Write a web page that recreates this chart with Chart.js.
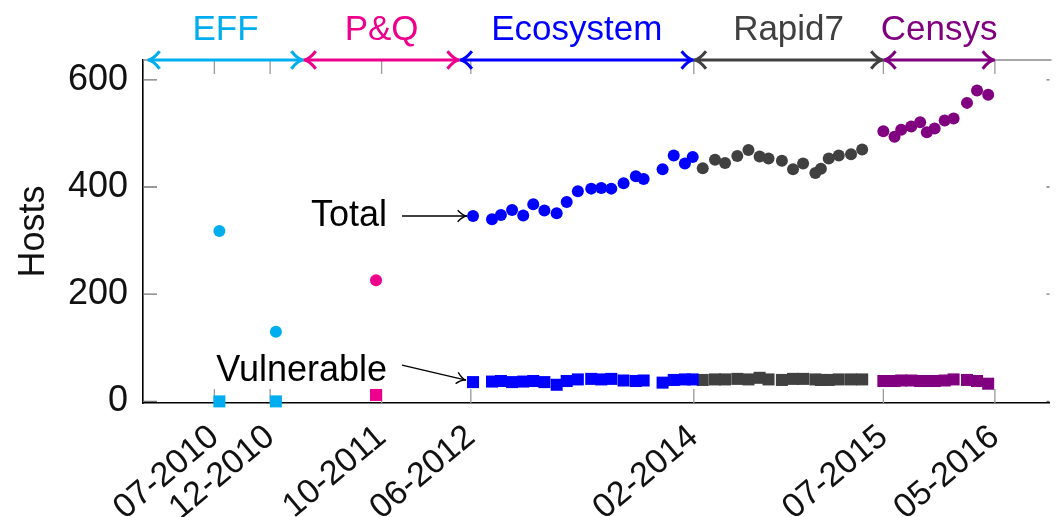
<!DOCTYPE html>
<html>
<head>
<meta charset="utf-8">
<script src="https://cdn.jsdelivr.net/npm/chart.js@4.4.1/dist/chart.umd.min.js"></script>
<style>
  html, body { margin: 0; padding: 0; background: #fff; }
  #wrap { width: 1058px; height: 517px; }
</style>
</head>
<body>
<div id="wrap"><canvas id="hostsChart"></canvas></div>
<script>
// x values are months counted from Jan 2010
const tickMonths = [6, 11, 21, 29, 49, 66, 76];
const tickLabels = ['07-2010', '12-2010', '10-2011', '06-2012', '02-2014', '07-2015', '05-2016'];
const yTicks = [0, 200, 400, 600];

const periodNames = ['EFF', 'P&Q', 'Ecosystem', 'Rapid7', 'Censys'];
const periodStart = [0, 14, 28, 49, 66];
const periodEnd = [14, 28, 49, 66, 76];
const periodColors = ['#00AEEF', '#EC008C', '#0000FF', '#404040', '#800080'];

const effMonths = [6.45, 11.52];
const effTotal = [318, 130];
const effVuln = [0, 0];

const pqMonths = [20.5];
const pqTotal = [226];
const pqVuln = [12];

const ecoMonths = [29.2, 30.9, 31.7, 32.7, 33.7, 34.6, 35.6, 36.7, 37.6, 38.6,
  39.8, 40.7, 41.6, 42.7, 43.8, 44.5, 46.2, 47.2, 48.2, 48.9];
const ecoTotal = [346, 340, 348, 357, 347, 368, 356, 351, 372, 392,
  397, 398, 397, 407, 420, 415, 433, 459, 444, 456];
const ecoVuln = [36, 37, 38, 36, 37, 38, 36, 31, 38, 41,
  42, 41, 42, 39, 38, 39, 35, 40, 41, 41];

const r7Months = [49.8, 50.9, 51.8, 52.9, 53.9, 54.9, 55.7, 56.9, 57.9, 58.8,
  59.9, 60.4, 61.1, 62.0, 63.1, 64.1];
const r7Total = [435, 451, 445, 458, 469, 457, 453, 449, 433, 444,
  426, 434, 453, 459, 461, 470];
const r7Vuln = [40, 41, 41, 42, 41, 44, 41, 40, 42, 42, 41, 40, 40, 41, 41, 41];

const censysMonths = [66.0, 67.0, 67.6, 68.5, 69.3, 69.9, 70.6, 71.5, 72.3, 73.5, 74.4, 75.4];
const censysTotal = [504, 494, 507, 513, 521, 502, 509, 524, 528, 557, 580, 572];
const censysVuln = [38, 38, 39, 39, 38, 38, 38, 39, 41, 40, 38, 33];

const FONT = '"Liberation Sans", Arial, sans-serif';

const groups = [
  [effMonths, effTotal, effVuln],
  [pqMonths, pqTotal, pqVuln],
  [ecoMonths, ecoTotal, ecoVuln],
  [r7Months, r7Total, r7Vuln],
  [censysMonths, censysTotal, censysVuln],
];

const datasets = [];
groups.forEach(([m, tot, vul], i) => {
  datasets.push({
    label: periodNames[i] + ' total',
    data: m.map((x, j) => ({ x, y: tot[j] })),
    backgroundColor: periodColors[i],
    borderWidth: 0,
    pointStyle: 'circle',
    pointRadius: 6,
    clip: false,
  });
  datasets.push({
    label: periodNames[i] + ' vulnerable',
    data: m.map((x, j) => ({ x, y: vul[j] })),
    backgroundColor: periodColors[i],
    borderWidth: 0,
    pointStyle: 'rect',
    pointRadius: 8.5,
    clip: false,
  });
});

function arrowHead(ctx, x, y, angle, len, spread) {
  ctx.beginPath();
  ctx.moveTo(x - len * Math.cos(angle - spread), y - len * Math.sin(angle - spread));
  ctx.quadraticCurveTo(x - len * 0.35 * Math.cos(angle), y - len * 0.35 * Math.sin(angle), x, y);
  ctx.quadraticCurveTo(x - len * 0.35 * Math.cos(angle), y - len * 0.35 * Math.sin(angle),
    x - len * Math.cos(angle + spread), y - len * Math.sin(angle + spread));
  ctx.stroke();
}

// frame ticks, period arrows and the Total / Vulnerable callouts
const decorations = {
  id: 'decorations',
  beforeDatasetsDraw(chart) {
    const { ctx, chartArea: a, scales: { x, y } } = chart;
    ctx.save();
    // inward tick marks
    ctx.lineWidth = 1.3;
    ctx.strokeStyle = '#9a9a9a';
    tickMonths.forEach(m => {
      const px = x.getPixelForValue(m);
      ctx.beginPath();
      ctx.moveTo(px, a.bottom); ctx.lineTo(px, a.bottom - 14);
      ctx.moveTo(px, a.top); ctx.lineTo(px, a.top + 14);
      ctx.stroke();
    });
    ctx.strokeStyle = '#777';
    yTicks.forEach(v => {
      const py = y.getPixelForValue(v);
      ctx.beginPath();
      ctx.moveTo(a.left, py); ctx.lineTo(a.left + 14, py);
      ctx.moveTo(a.right, py); ctx.lineTo(a.right - 3, py);
      ctx.stroke();
    });
    ctx.restore();
  },
  afterDatasetsDraw(chart) {
    const { ctx, chartArea: a, scales: { x, y } } = chart;
    ctx.save();

    // top frame line
    ctx.strokeStyle = '#8a8a8a';
    ctx.lineWidth = 1.5;
    ctx.beginPath();
    ctx.moveTo(a.left, a.top); ctx.lineTo(a.right + 2, a.top);
    ctx.stroke();

    // period arrows with names
    ctx.lineWidth = 3;
    ctx.font = '35px ' + FONT;
    ctx.textAlign = 'center';
    ctx.textBaseline = 'middle';
    periodNames.forEach((name, i) => {
      const x0 = x.getPixelForValue(periodStart[i]);
      const x1 = x.getPixelForValue(periodEnd[i]);
      ctx.strokeStyle = periodColors[i];
      ctx.fillStyle = periodColors[i];
      ctx.beginPath();
      ctx.moveTo(x0 + 2, a.top); ctx.lineTo(x1 - 2, a.top);
      ctx.stroke();
      arrowHead(ctx, x1, a.top, 0, 15, 0.62);
      arrowHead(ctx, x0, a.top, Math.PI, 15, 0.62);
      ctx.fillText(name, (x0 + x1) / 2, a.top - 30);
    });

    // callouts pointing at the first Ecosystem scan
    ctx.fillStyle = '#000';
    ctx.strokeStyle = '#000';
    ctx.lineWidth = 1.4;
    ctx.font = '36px ' + FONT;
    ctx.textAlign = 'right';
    const px = x.getPixelForValue(ecoMonths[0]);
    const tY = y.getPixelForValue(ecoTotal[0]);
    const vY = y.getPixelForValue(ecoVuln[0]);

    ctx.fillText('Total', px - 86, tY);
    ctx.beginPath();
    ctx.moveTo(px - 71, tY); ctx.lineTo(px - 6, tY);
    ctx.stroke();
    arrowHead(ctx, px - 6, tY, 0, 11, 0.55);

    const sx = px - 71, sy = vY - 17, ex = px - 7, ey = vY - 2;
    ctx.fillText('Vulnerable', px - 86, vY - 11);
    ctx.beginPath();
    ctx.moveTo(sx, sy); ctx.lineTo(ex, ey);
    ctx.stroke();
    arrowHead(ctx, ex, ey, Math.atan2(ey - sy, ex - sx), 11, 0.55);

    ctx.restore();
  }
};

new Chart(document.getElementById('hostsChart'), {
  type: 'scatter',
  data: { datasets },
  plugins: [decorations],
  options: {
    responsive: true,
    maintainAspectRatio: false,
    animation: false,
    layout: { padding: { top: 60, right: 2, left: 0, bottom: 0 } },
    plugins: { legend: { display: false }, tooltip: { enabled: false } },
    scales: {
      x: {
        type: 'linear',
        min: -0.4,
        max: 80.9,
        afterBuildTicks: s => { s.ticks = tickMonths.map(v => ({ value: v })); },
        afterFit: s => { s.height = 114; },
        grid: { display: false, drawTicks: false },
        border: { display: true, color: '#000', width: 1.6 },
        ticks: {
          autoSkip: false,
          maxRotation: 40,
          minRotation: 40,
          padding: 14,
          color: '#111',
          font: { family: FONT, size: 34 },
          callback: (v, i) => tickLabels[i],
        },
      },
      y: {
        min: -3,
        max: 637,
        afterBuildTicks: s => { s.ticks = yTicks.map(v => ({ value: v })); },
        afterFit: s => { s.width = 143; },
        grid: { display: false, drawTicks: false },
        border: { display: true, color: '#000', width: 1.6 },
        ticks: {
          padding: 15,
          color: '#111',
          font: { family: FONT, size: 36 },
        },
        title: {
          display: true,
          text: 'Hosts',
          color: '#111',
          font: { family: FONT, size: 36 },
          padding: { top: 12, bottom: 0 },
        },
      },
    },
  },
});
</script>
</body>
</html>
